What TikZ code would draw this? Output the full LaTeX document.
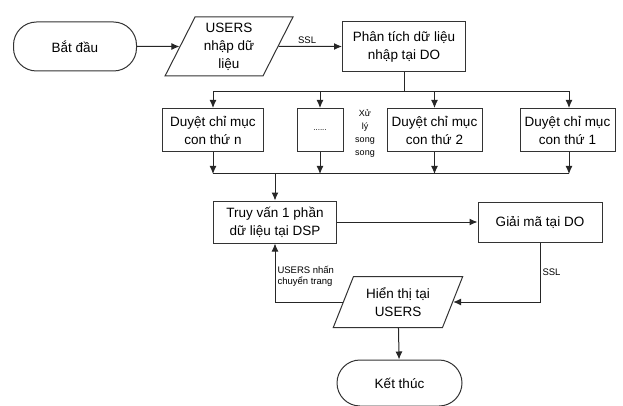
\documentclass[tikz,border=0pt]{standalone}
\usepackage{fontspec}
\setmainfont{Liberation Sans}
\usetikzlibrary{shapes.geometric, arrows.meta}

\begin{document}
\begin{tikzpicture}[
        x=1pt, y=-1pt,
        every node/.style={font=\fontsize{13.5}{18}\selectfont},
        % Box Styles
        basebox/.style={
            draw=black!80,
            line width=1pt,
            fill=white,
            align=center,
            inner sep=2pt
        },
        termbox/.style={
            basebox,
            rectangle,
            rounded corners=23pt,
            minimum width=123pt,
            minimum height=49pt
        },
        procbox/.style={
            basebox,
            rectangle,
            minimum width=95pt,
            minimum height=43pt
        },
        iobox/.style={
            basebox,
            trapezium,
            trapezium left angle=65,
            trapezium right angle=115,
            trapezium stretches=true,
            minimum width=128pt
        },
        smalltext/.style={font=\fontsize{9.5}{11.5}\selectfont, inner sep=2pt},
        % Connector Styles
        arrow/.style={-{Latex[length=8pt, width=7pt]}, line width=1pt, draw=black!85},
        line/.style={line width=1pt, draw=black!85}
    ]
    \useasboundingbox (0,0) rectangle (623,406);

    % --- Input (Top Row) ---
    \node[termbox] (start) at (75,46.5) {Bắt đầu};
    \node[iobox, minimum height=59pt] (input) at (229,46.5) {USERS\\nhập dữ\\liệu};
    \node[procbox, minimum width=123pt, minimum height=50pt] (parse) at (404,46.5) {Phân tích dữ liệu\\nhập tại DO};

    % --- Sub-index Scans (Middle Row) ---
    \node[procbox, minimum width=101pt] (subn) at (213,130) {Duyệt chỉ mục\\con thứ n};
    \node[procbox, minimum width=46pt] (dots) at (320,130) {\fontsize{8}{10}\selectfont ......};
    \node[procbox] (sub2) at (434.5,130) {Duyệt chỉ mục\\con thứ 2};
    \node[procbox] (sub1) at (567.5,130) {Duyệt chỉ mục\\con thứ 1};
    \node[align=center, font=\fontsize{9}{13}\selectfont] (parlabel) at (365,134) {Xử\\lý\\song\\song};

    % --- Query & Output (Bottom) ---
    \node[procbox, minimum width=123pt, minimum height=42pt] (query) at (275,222) {Truy vấn 1 phần\\dữ liệu tại DSP};
    \node[procbox, minimum width=124pt, minimum height=40pt] (decode) at (540,222) {Giải mã tại DO};
    \node[iobox, minimum width=130pt, minimum height=51pt] (output) at (398,302) {Hiển thị tại\\USERS};
    \node[termbox, minimum width=125pt, minimum height=46pt] (end) at (399.5,383) {Kết thúc};

    % --- Paths & Connections ---
    \coordinate (split) at (404,92);
    \coordinate (merge) at (275,174);

    \draw[arrow] (start) -- (input);
    \draw[arrow] (input) -- node[smalltext, above, pos=0.45] {SSL} (parse);

    % Fan out to the sub-index scans
    \draw[line] (parse) -- (split);
    \draw[arrow] (split) -| (subn);
    \draw[arrow] (split) -| (dots);
    \draw[arrow] (split) -| (sub2);
    \draw[arrow] (split) -| ([xshift=1.5pt]sub1.north);

    % Collect the results again
    \draw[arrow] (subn) -- (subn |- merge);
    \draw[arrow] (dots) -- (dots |- merge);
    \draw[arrow] (sub2) -- (sub2 |- merge);
    \draw[arrow] ([xshift=1.5pt]sub1.south) -- ([xshift=1.5pt]sub1.south |- merge);
    \draw[line] (subn |- merge) -- ([xshift=1.5pt]sub1.south |- merge);
    \draw[arrow] (merge) -- (query);

    \draw[arrow] (query) -- (decode);
    \draw[arrow] (decode) |- node[smalltext, right, pos=0.25] {SSL} (output);
    \draw[arrow] (output) -| node[smalltext, right, align=left, pos=0.72] {USERS nhấn\\chuyển trang} (query);
    \draw[arrow] (output) -- (end);

\end{tikzpicture}
\end{document}
